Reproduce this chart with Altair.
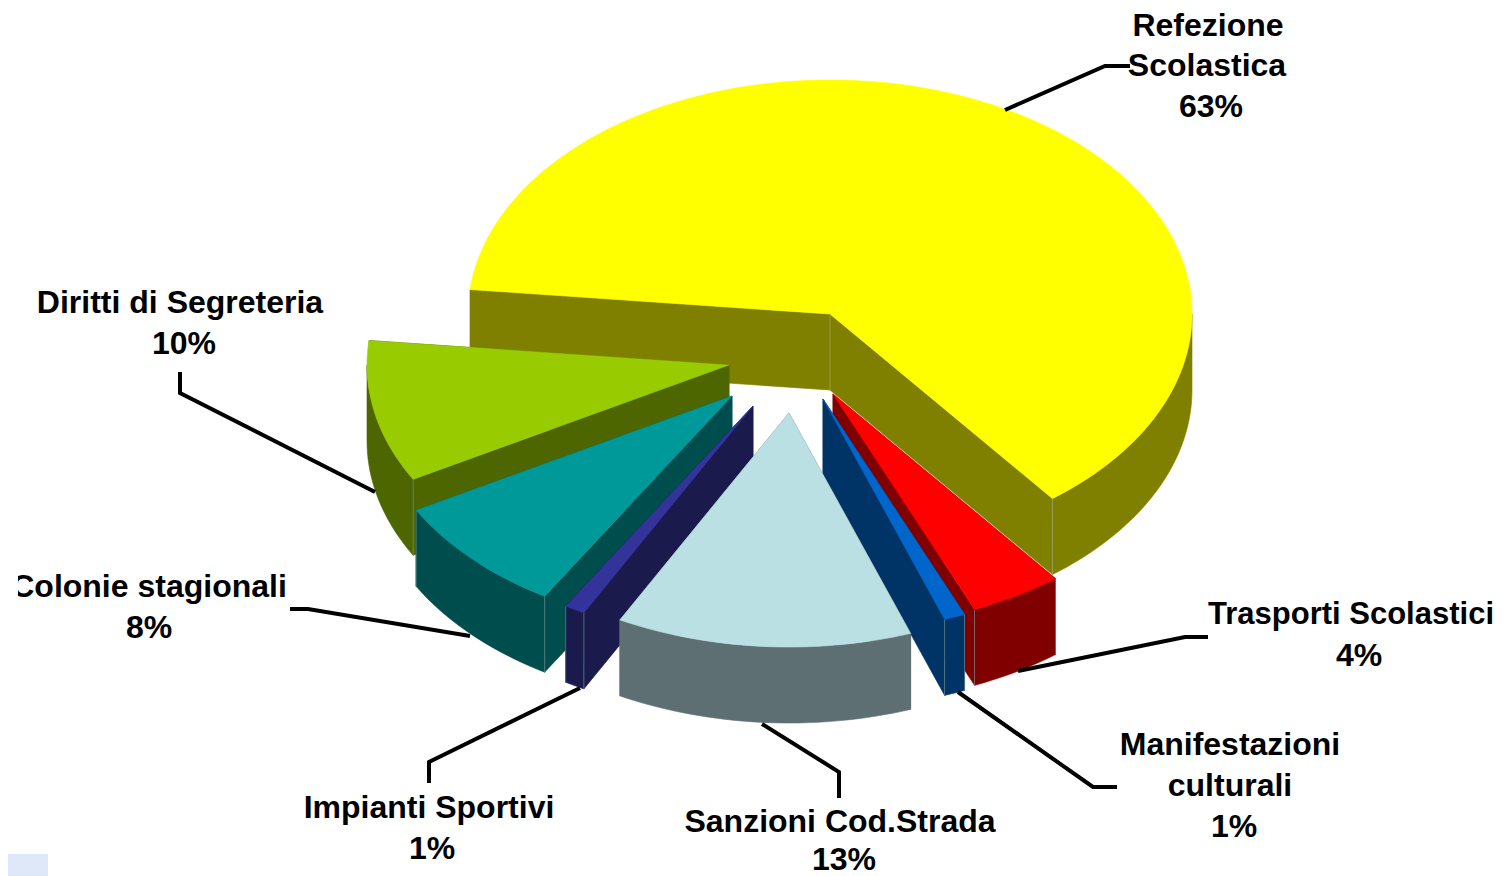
import math
import altair as alt
import pandas as pd

# --- values
names = ["Refezione Scolastica", "Trasporti Scolastici", "Manifestazioni culturali",
         "Sanzioni Cod.Strada", "Impianti Sportivi", "Colonie stagionali", "Diritti di Segreteria"]
shares = [62.8, 4.14, 0.94, 13.19, 0.92, 8.22, 9.79]
percent_labels = ["63%", "4%", "1%", "13%", "1%", "8%", "10%"]

# --- styling / layout
top_colors = ["#FFFF00", "#FF0000", "#0066CC", "#BAE0E3", "#333399", "#009999", "#99CC00"]
wall_colors = ["#808000", "#800000", "#003366", "#5E6F73", "#1A1A4D", "#004D4D", "#4D6600"]
tips = [(830, 314), (833, 394), (823, 399), (789, 413), (753, 406), (732, 396), (729, 365)]
paint_order = [0, 1, 2, 6, 5, 4, 3]
START_DEG, RX, RY, DEPTH = 276.0, 362.0, 234.0, 76.0
RIGHT, BOTTOM = 1496, 876

label_lines = [
    ("Refezione", 1208, 26, 32), ("Scolastica", 1207, 66, 32), ("63%", 1211, 107, 32),
    ("Trasporti Scolastici", 1351, 615, 31), ("4%", 1359, 656, 32),
    ("Manifestazioni", 1230, 745, 32), ("culturali", 1230, 786, 32), ("1%", 1234, 827, 32),
    ("Sanzioni Cod.Strada", 840, 822, 32), ("13%", 844, 860, 32),
    ("Impianti Sportivi", 429, 808, 32), ("1%", 432, 849, 32),
    ("Colonie stagionali", 149, 587, 32), ("8%", 149, 628, 32),
    ("Diritti di Segreteria", 180, 303, 32), ("10%", 184, 344, 32),
]
leaders = [
    [(1005, 110), (1105, 66), (1130, 66)],
    [(1018, 671), (1185, 637), (1208, 637)],
    [(958, 692), (1093, 787), (1117, 787)],
    [(762, 724), (839, 772), (839, 798)],
    [(580, 688), (429, 762), (429, 783)],
    [(470, 636), (308, 609), (290, 609)],
    [(375, 492), (180, 393), (180, 372)],
]

X = alt.Scale(domain=[8, RIGHT])
Y = alt.Scale(domain=[BOTTOM, 8])
NOAX = None


def point(tip, deg, drop=0.0):
    t = math.radians(deg)
    return (tip[0] + RX * math.sin(t), tip[1] - RY * math.cos(t) + drop)


def arc(tip, a, b, drop=0.0):
    n = max(2, int(abs(b - a) / 1.5) + 1)
    return [point(tip, a + (b - a) * i / n, drop) for i in range(n + 1)]


def polygon(pts, color):
    pts = list(pts) + [pts[0]]
    df = pd.DataFrame({"x": [p[0] for p in pts], "y": [p[1] for p in pts], "i": range(len(pts))})
    return alt.Chart(df).mark_line(fill=color, stroke=color, strokeWidth=0.6, interpolate="linear").encode(
        x=alt.X("x:Q", scale=X, axis=NOAX),
        y=alt.Y("y:Q", scale=Y, axis=NOAX),
        order="i:Q",
    )


def path(pts, color, width):
    df = pd.DataFrame({"x": [p[0] for p in pts], "y": [p[1] for p in pts], "i": range(len(pts))})
    return alt.Chart(df).mark_line(color=color, strokeWidth=width).encode(
        x=alt.X("x:Q", scale=X, axis=NOAX),
        y=alt.Y("y:Q", scale=Y, axis=NOAX),
        order="i:Q",
    )


# angular extent of every slice, from its share
bounds = []
a = START_DEG
for s in shares:
    b = a + s * 3.6
    bounds.append((a, b))
    a = b

layers = []
for k in paint_order:
    a, b = bounds[k]
    tip = tips[k]
    wall = wall_colors[k]
    for edge in (a, b):
        p = point(tip, edge)
        layers.append(polygon([tip, p, (p[0], p[1] + DEPTH), (tip[0], tip[1] + DEPTH)], wall))
    # outer wall: only the part of the rim that faces the viewer (90..270 degrees, each turn)
    for shift in (0.0, 360.0):
        lo, hi = max(a, 90.0 + shift), min(b, 270.0 + shift)
        if hi > lo:
            layers.append(polygon(arc(tip, lo, hi) + arc(tip, hi, lo, DEPTH), wall))
    # faint corner edges
    for edge in (a % 360, b % 360):
        if 90 <= edge <= 270 and k != 3:
            p = point(tip, edge)
            layers.append(path([p, (p[0], p[1] + DEPTH)], "#A8A880" if k == 0 else "#6F8F8F", 0.7))
    layers.append(polygon(arc(tip, a, b) + [tip], top_colors[k]))
    if k == 0:
        layers.append(path([tip, (tip[0], tip[1] + DEPTH)], "#A8A860", 0.7))

for pts in leaders:
    layers.append(path(pts, "#000000", 4))

labels = pd.DataFrame(label_lines, columns=["t", "x", "y", "s"])
layers.append(
    alt.Chart(labels).mark_text(font="Liberation Sans", fontWeight="bold",
                                color="#000000", baseline="middle", align="center").encode(
        x=alt.X("x:Q", scale=X, axis=NOAX),
        y=alt.Y("y:Q", scale=Y, axis=NOAX),
        size=alt.Size("s:Q", scale=None, legend=None),
        text="t:N",
    )
)

# the reference is cropped on the left edge, and has a scrap of pale blue in its corner
mask = pd.DataFrame({"x": [8], "x2": [18], "y": [560], "y2": [610]})
layers.append(alt.Chart(mask).mark_rect(color="#FFFFFF").encode(
    x=alt.X("x:Q", scale=X, axis=NOAX), x2="x2:Q",
    y=alt.Y("y:Q", scale=Y, axis=NOAX), y2="y2:Q"))
scrap = pd.DataFrame({"x": [8], "x2": [48], "y": [854], "y2": [BOTTOM]})
layers.append(alt.Chart(scrap).mark_rect(color="#DFE8F9").encode(
    x=alt.X("x:Q", scale=X, axis=NOAX), x2="x2:Q",
    y=alt.Y("y:Q", scale=Y, axis=NOAX), y2="y2:Q"))

chart = alt.layer(*layers).properties(
    width=RIGHT - 8, height=BOTTOM - 8, padding=0, autosize=alt.AutoSizeParams(type="none")
).configure_view(stroke=None)

chart.save("out.html", embed_options={"renderer": "svg", "actions": False})
